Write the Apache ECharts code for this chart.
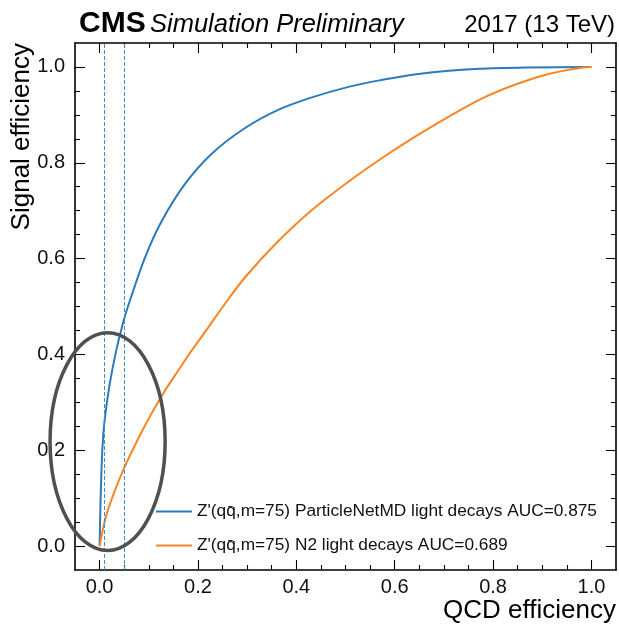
<!DOCTYPE html>
<html>
<head>
<meta charset="utf-8">
<script src="https://cdn.jsdelivr.net/npm/echarts@6/dist/echarts.min.js"></script>
<style>html,body{margin:0;padding:0;background:#fff;}#c{width:619px;height:624px;}</style>
</head>
<body>
<div id="c"></div>
<script>
// ---- data ----
const seriesNames = [
  "Z'(qq\u0304,m=75) ParticleNetMD light decays AUC=0.875",
  "Z'(qq\u0304,m=75) N2 light decays AUC=0.689"
];
const pnetX = [0, 0.002, 0.0055, 0.01, 0.02, 0.034, 0.049, 0.0576, 0.0915, 0.125, 0.173, 0.227, 0.295, 0.362, 0.43, 0.508, 0.569, 0.644, 0.772, 0.874, 1.0];
const pnetY = [0, 0.096, 0.20, 0.26, 0.335, 0.409, 0.471, 0.50, 0.600, 0.676, 0.755, 0.818, 0.872, 0.910, 0.936, 0.959, 0.972, 0.985, 0.996, 0.999, 1.0];
const n2X = [0, 0.01, 0.02, 0.05, 0.0915, 0.129, 0.159, 0.183, 0.2236, 0.251, 0.295, 0.362, 0.43, 0.508, 0.576, 0.644, 0.711, 0.779, 0.847, 0.915, 0.982, 1.0];
const n2Y = [0, 0.05, 0.085, 0.163, 0.25, 0.318, 0.365, 0.402, 0.46, 0.50, 0.560, 0.635, 0.700, 0.762, 0.811, 0.856, 0.897, 0.935, 0.964, 0.986, 0.999, 1.0];
const cutLines = [0.01, 0.05];
const xMajorTicks = [0, 0.2, 0.4, 0.6, 0.8, 1.0];
const yMajorTicks = [0, 0.2, 0.4, 0.6, 0.8, 1.0];
const xMinorTicks = [0.05, 0.1, 0.15, 0.25, 0.3, 0.35, 0.45, 0.5, 0.55, 0.65, 0.7, 0.75, 0.85, 0.9, 0.95];
const yMinorTicks = [0.05, 0.1, 0.15, 0.25, 0.3, 0.35, 0.45, 0.5, 0.55, 0.65, 0.7, 0.75, 0.85, 0.9, 0.95];
const axisRange = [-0.05, 1.05];
// highlight ellipse annotation (data units): centre x, centre y, radius x, radius y
const ellipseAnno = [0.0163, 0.218, 0.117, 0.2274];

const FONT = "'Liberation Sans', Arial, Helvetica, sans-serif";
const BLUE = '#2a7bbb', ORANGE = '#fb8424';

function zip(a, b) { return a.map((v, i) => [v, b[i]]); }

function mkAxis(pos, ticks, len, withLabel, withLine) {
  return {
    type: 'value', position: pos, min: axisRange[0], max: axisRange[1],
    axisLine: { show: withLine, onZero: false, lineStyle: { color: '#000', width: 1.6 } },
    axisTick: { show: true, inside: true, length: len, customValues: ticks, lineStyle: { color: '#000', width: 1.1 } },
    axisLabel: withLabel ? {
      show: true, customValues: ticks, margin: (pos === 'bottom' ? 7 : 10), fontSize: 20, color: '#111', fontFamily: FONT,
      formatter: v => (+v).toFixed(1)
    } : { show: false },
    splitLine: { show: false }
  };
}

const chart = echarts.init(document.getElementById('c'), null, { renderer: 'canvas' });
const option = {
  animation: false,
  backgroundColor: '#fff',
  grid: { left: 75, right: 3, top: 43, bottom: 54, containLabel: false },
  xAxis: [
    mkAxis('bottom', xMajorTicks, 10, true, true),
    mkAxis('bottom', xMinorTicks, 5, false, false),
    mkAxis('top', xMajorTicks, 10, false, true),
    mkAxis('top', xMinorTicks, 5, false, false)
  ],
  yAxis: [
    mkAxis('left', yMajorTicks, 10, true, true),
    mkAxis('left', yMinorTicks, 5, false, false),
    mkAxis('right', yMajorTicks, 10, false, true),
    mkAxis('right', yMinorTicks, 5, false, false)
  ],
  legend: {
    orient: 'vertical', left: 156, top: 503, itemWidth: 36, itemHeight: 14, itemGap: 17, padding: 0,
    icon: 'path://M0,6 L36,6 L36,8 L0,8 Z',
    textStyle: { fontSize: 17.3, fontFamily: FONT, color: '#111' },
    data: seriesNames
  },
  series: [
    {
      name: seriesNames[0], type: 'line', data: zip(pnetX, pnetY), showSymbol: false, symbol: 'none',
      smooth: 0.3, color: BLUE, lineStyle: { width: 2, color: BLUE }, z: 3,
      markLine: {
        silent: true, symbol: 'none', label: { show: false },
        lineStyle: { type: [4, 2], color: '#3d8fc6', width: 1 },
        data: cutLines.map(v => ({ xAxis: v }))
      }
    },
    {
      name: seriesNames[1], type: 'line', data: zip(n2X, n2Y), showSymbol: false, symbol: 'none',
      smooth: 0.3, color: ORANGE, lineStyle: { width: 2, color: ORANGE }, z: 3
    }
  ]
};
chart.setOption(option);

const c0 = chart.convertToPixel({ xAxisIndex: 0, yAxisIndex: 0 }, [ellipseAnno[0], ellipseAnno[1]]);
const c1 = chart.convertToPixel({ xAxisIndex: 0, yAxisIndex: 0 }, [ellipseAnno[0] + ellipseAnno[2], ellipseAnno[1] + ellipseAnno[3]]);

chart.setOption({
  graphic: [
    { type: 'ellipse', shape: { cx: c0[0], cy: c0[1], rx: Math.abs(c1[0] - c0[0]), ry: Math.abs(c0[1] - c1[1]) },
      style: { fill: 'none', stroke: '#505050', lineWidth: 3.5 }, z: 100 },
    { type: 'text', left: 79, top: 9, style: { text: 'CMS', font: "bold 30px " + FONT, fill: '#000' } },
    { type: 'text', left: 150, top: 12, style: { text: 'Simulation Preliminary', font: "italic 25.5px " + FONT, fill: '#000' } },
    { type: 'text', right: 4, top: 13, style: { text: '2017 (13 TeV)', font: "24px " + FONT, fill: '#000' } },
    { type: 'text', right: 3, top: 598, style: { text: 'QCD efficiency', font: "26px " + FONT, fill: '#000' } },
    { type: 'text', x: 22, y: 43, rotation: Math.PI / 2,
      style: { text: 'Signal efficiency', font: "26px " + FONT, fill: '#000', align: 'right', verticalAlign: 'middle' } }
  ]
});
</script>
</body>
</html>
